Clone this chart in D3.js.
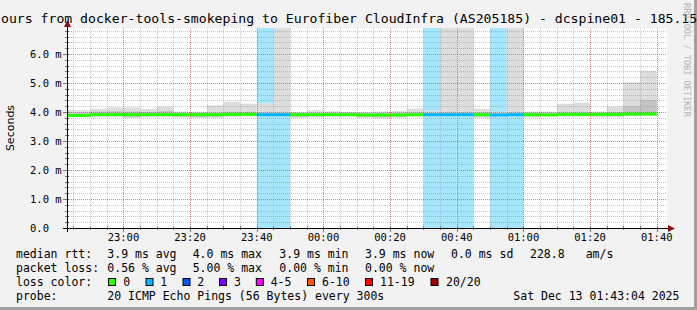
<!DOCTYPE html>
<html>
<head>
<meta charset="utf-8">
<script src="https://cdn.jsdelivr.net/npm/d3@7"></script>
<style>
  body { margin: 0; background: #f2f2f2; }
  svg { display: block; }
  text { font-family: "DejaVu Sans Mono", monospace; fill: #000; }
</style>
</head>
<body>
<div id="chart"></div>
<script>
// 5 minute steps, 22:40 .. 01:35 (start of each step)
const stepTimes = ["22:40","22:45","22:50","22:55","23:00","23:05","23:10","23:15","23:20","23:25","23:30","23:35",
                   "23:40","23:45","23:50","23:55","00:00","00:05","00:10","00:15","00:20","00:25","00:30","00:35",
                   "00:40","00:45","00:50","00:55","01:00","01:05","01:10","01:15","01:20","01:25","01:30","01:35"];
// median rtt in ms
const medianMs = [3.88,3.88,3.91,3.91,3.91,3.91,3.91,3.91,3.91,3.91,3.92,3.92,
                  3.91,3.91,3.91,3.91,3.91,3.91,3.90,3.90,3.90,3.91,3.91,3.91,
                  3.91,3.91,3.90,3.91,3.91,3.90,3.92,3.92,3.92,3.92,3.93,3.93];
// lost pings per step (out of 20)
const lossPings = [0,0,0,0,0,0,0,0,0,0,0,0,
                   1,1,0,0,0,0,0,0,0,0,1,1,
                   1,0,1,1,0,0,0,0,0,0,0,0];
// smoke extent (min / max ping) in ms, 7 = off the top of the graph
const smokeLoMs = [3.85,3.84,3.84,3.84,3.80,3.84,3.84,3.82,3.80,3.80,3.84,3.85,
                   3.86,3.86,3.80,3.82,3.84,3.84,3.80,3.78,3.80,3.84,3.86,3.86,
                   3.86,3.80,3.86,3.86,3.82,3.86,3.84,3.84,3.82,3.82,3.86,3.88];
const smokeHiMs = [4.07,4.06,4.11,4.16,4.16,4.11,4.19,4.02,4.01,4.23,4.36,4.29,
                   4.31,7.00,4.00,4.06,4.03,4.00,4.00,4.02,4.04,4.12,4.05,7.00,
                   7.00,4.11,4.02,7.00,4.02,4.02,4.28,4.33,4.02,4.19,5.02,5.42];
// darker inner smoke
const innerLoMs = [3.86,3.86,3.86,3.86,3.82,3.85,3.86,3.84,3.82,3.84,3.86,3.87,
                   3.88,3.88,3.84,3.85,3.86,3.86,3.83,3.82,3.84,3.86,3.88,3.88,
                   3.88,3.84,3.88,3.88,3.85,3.87,3.87,3.87,3.86,3.86,3.88,3.89];
const innerHiMs = [3.98,3.98,4.02,4.03,4.02,4.00,4.04,3.96,3.96,3.98,4.00,4.00,
                   3.98,3.98,3.96,3.97,3.97,3.97,3.96,3.96,3.97,3.98,3.97,3.98,
                   3.98,3.98,3.96,3.98,3.97,3.97,3.98,3.99,3.97,4.00,4.20,4.42];

const yTicks = [0,1,2,3,4,5,6];
const yTickLabels = ["0.0","1.0 m","2.0 m","3.0 m","4.0 m","5.0 m","6.0 m"];
const xTickLabels = ["23:00","23:20","23:40","00:00","00:20","00:40","01:00","01:20","01:40"];

const lossNames = ["0","1","2","3","4-5","6-10","11-19","20/20"];
const lossColors = ["#26ff00","#00b8ff","#0059ff","#7e00ff","#ff00ff","#ff5500","#ff0000","#a10000"];

const width = 697, height = 310;
const plot = { left: 67, top: 28, width: 600, height: 200 };

function toDate(hm) {
    const [h, m] = hm.split(":").map(Number);
    const day = h >= 12 ? 12 : 13;
    return new Date(2025, 11, day, h, m, 0);
}

const svg = d3.select("#chart").append("svg")
    .attr("width", width)
    .attr("height", height);

// background and 3d frame
svg.append("rect").attr("width", width).attr("height", height).attr("fill", "#f2f2f2");
svg.append("rect").attr("x", 0).attr("y", height - 3).attr("width", width).attr("height", 3).attr("fill", "#a0a0a0");
svg.append("rect").attr("x", width - 3).attr("y", 0).attr("width", 3).attr("height", height).attr("fill", "#a0a0a0");

const xScale = d3.scaleTime()
    .domain([new Date(2025, 11, 12, 22, 43, 4), new Date(2025, 11, 13, 1, 43, 4)])
    .range([plot.left, plot.left + plot.width]);

const yScale = d3.scaleLinear()
    .domain([0, 6.9])
    .range([plot.top + plot.height, plot.top]);

svg.append("defs").append("clipPath").attr("id", "clip")
    .append("rect")
    .attr("x", plot.left).attr("y", plot.top)
    .attr("width", plot.width).attr("height", plot.height);

// canvas
svg.append("rect")
    .attr("x", plot.left).attr("y", plot.top)
    .attr("width", plot.width).attr("height", plot.height)
    .attr("fill", "#ffffff");

const steps = stepTimes.map((t, i) => {
    const start = toDate(t);
    return {
        start: start,
        end: new Date(start.getTime() + 5 * 60 * 1000),
        median: medianMs[i],
        loss: lossPings[i],
        lo: smokeLoMs[i], hi: smokeHiMs[i],
        inLo: innerLoMs[i], inHi: innerHiMs[i]
    };
});

function lossColor(n) {
    if (n === 0) return lossColors[0];
    if (n === 1) return lossColors[1];
    if (n === 2) return lossColors[2];
    if (n === 3) return lossColors[3];
    if (n <= 5) return lossColors[4];
    if (n <= 10) return lossColors[5];
    if (n <= 19) return lossColors[6];
    return lossColors[7];
}

const data = svg.append("g").attr("clip-path", "url(#clip)");

// loss background
data.selectAll(".lossbg")
    .data(steps.filter(d => d.loss > 0))
    .enter().append("rect")
    .attr("x", d => xScale(d.start))
    .attr("width", d => xScale(d.end) - xScale(d.start))
    .attr("y", plot.top)
    .attr("height", plot.height)
    .attr("fill", "#a6e6fd");

// smoke
data.selectAll(".smoke")
    .data(steps)
    .enter().append("rect")
    .attr("x", d => xScale(d.start))
    .attr("width", d => xScale(d.end) - xScale(d.start))
    .attr("y", d => yScale(d.hi))
    .attr("height", d => yScale(d.lo) - yScale(d.hi))
    .attr("fill", "#dddddd");

data.selectAll(".smokein")
    .data(steps)
    .enter().append("rect")
    .attr("x", d => xScale(d.start))
    .attr("width", d => xScale(d.end) - xScale(d.start))
    .attr("y", d => yScale(d.inHi))
    .attr("height", d => yScale(d.inLo) - yScale(d.inHi))
    .attr("fill", "#c4c4c4");

// median
data.selectAll(".median")
    .data(steps)
    .enter().append("rect")
    .attr("x", d => xScale(d.start))
    .attr("width", d => xScale(d.end) - xScale(d.start))
    .attr("y", d => yScale(d.median) - 1.5)
    .attr("height", 3)
    .attr("fill", d => lossColor(d.loss));

// grid, drawn on top like rrdtool does
const grid = svg.append("g");
const minorY = d3.range(0, 6.9, 0.2);
grid.selectAll(".ymin")
    .data(minorY)
    .enter().append("line")
    .attr("x1", plot.left).attr("x2", plot.left + plot.width)
    .attr("y1", d => Math.round(yScale(d)) + 0.5)
    .attr("y2", d => Math.round(yScale(d)) + 0.5)
    .attr("stroke", "rgba(120,120,120,0.4)")
    .attr("stroke-dasharray", "1,1");

const minorX = d3.timeMinute.every(5).range(xScale.domain()[0], xScale.domain()[1]);
grid.selectAll(".xmin")
    .data(minorX)
    .enter().append("line")
    .attr("x1", d => Math.round(xScale(d)) + 0.5)
    .attr("x2", d => Math.round(xScale(d)) + 0.5)
    .attr("y1", plot.top).attr("y2", plot.top + plot.height)
    .attr("stroke", "rgba(120,120,120,0.4)")
    .attr("stroke-dasharray", "1,1");

grid.selectAll(".ymaj")
    .data(yTicks.slice(1))
    .enter().append("line")
    .attr("x1", plot.left).attr("x2", plot.left + plot.width)
    .attr("y1", d => Math.round(yScale(d)) + 0.5)
    .attr("y2", d => Math.round(yScale(d)) + 0.5)
    .attr("stroke", "rgba(230,60,60,0.5)")
    .attr("stroke-dasharray", "1,1");

const majorX = xTickLabels.map(toDate);
grid.selectAll(".xmaj")
    .data(majorX)
    .enter().append("line")
    .attr("x1", d => Math.round(xScale(d)) + 0.5)
    .attr("x2", d => Math.round(xScale(d)) + 0.5)
    .attr("y1", plot.top).attr("y2", plot.top + plot.height)
    .attr("stroke", "rgba(230,60,60,0.5)")
    .attr("stroke-dasharray", "1,1");

// axis ticks
const y0 = plot.top + plot.height;
grid.selectAll(".ytick")
    .data(minorY)
    .enter().append("line")
    .attr("x1", d => Math.abs(d - Math.round(d)) < 1e-6 ? plot.left - 4 : plot.left - 2)
    .attr("x2", plot.left + 2)
    .attr("y1", d => Math.round(yScale(d)) + 0.5)
    .attr("y2", d => Math.round(yScale(d)) + 0.5)
    .attr("stroke", "#777");
grid.selectAll(".xtick")
    .data(minorX)
    .enter().append("line")
    .attr("x1", d => Math.round(xScale(d)) + 0.5)
    .attr("x2", d => Math.round(xScale(d)) + 0.5)
    .attr("y1", y0 - 2)
    .attr("y2", d => d.getMinutes() % 20 === 0 ? y0 + 4 : y0 + 2)
    .attr("stroke", "#777");

// axis lines + arrows
svg.append("line")
    .attr("x1", plot.left - 4).attr("x2", plot.left + plot.width + 4)
    .attr("y1", y0 + 0.5).attr("y2", y0 + 0.5)
    .attr("stroke", "#000");
svg.append("line")
    .attr("x1", plot.left + 0.5).attr("x2", plot.left + 0.5)
    .attr("y1", y0 + 4).attr("y2", plot.top - 4)
    .attr("stroke", "#000");
svg.append("path")
    .attr("d", `M${plot.left + plot.width + 1},${y0 - 3} L${plot.left + plot.width + 8},${y0 + 0.5} L${plot.left + plot.width + 1},${y0 + 4} Z`)
    .attr("fill", "#8b1010");
svg.append("path")
    .attr("d", `M${plot.left - 3},${plot.top - 1} L${plot.left + 0.5},${plot.top - 8} L${plot.left + 4},${plot.top - 1} Z`)
    .attr("fill", "#8b1010");

// y labels
svg.selectAll(".ylab")
    .data(yTicks)
    .enter().append("text")
    .attr("x", 30)
    .attr("y", d => yScale(d) + 3.8)
    .style("font-size", "10.5px")
    .text((d, i) => yTickLabels[i]);

// x labels
svg.selectAll(".xlab")
    .data(majorX)
    .enter().append("text")
    .attr("x", d => xScale(d))
    .attr("y", 241)
    .attr("text-anchor", "middle")
    .style("font-size", "10.5px")
    .text((d, i) => xTickLabels[i]);

// y axis title
svg.append("text")
    .attr("transform", "rotate(-90)")
    .attr("x", -128)
    .attr("y", 14)
    .attr("text-anchor", "middle")
    .style("font-family", "'DejaVu Sans', sans-serif")
    .style("font-size", "11px")
    .text("Seconds");

// title (cut off on both sides in the original)
svg.append("text")
    .attr("x", 1)
    .attr("y", 23)
    .style("font-size", "13.15px")
    .text("ours from docker-tools-smokeping to Eurofiber CloudInfra (AS205185) - dcspine01 - 185.15");

// watermark
svg.append("text")
    .attr("transform", "translate(684, 3) rotate(90)")
    .style("font-size", "8.6px")
    .style("fill", "#b5b5b5")
    .text("RRDTOOL / TOBI OETIKER");

// legend
const legendFont = "11.5px";
const rows = [258.3, 272.2, 286.1, 300];
function legendText(x, y, s) {
    svg.append("text").attr("x", x).attr("y", y)
        .style("font-size", legendFont)
        .attr("xml:space", "preserve")
        .text(s);
}
legendText(16, rows[0], "median rtt:");
legendText(107.3, rows[0], "3.9 ms avg");
legendText(192.7, rows[0], "4.0 ms max");
legendText(279.3, rows[0], "3.9 ms min");
legendText(365, rows[0], "3.9 ms now");
legendText(451, rows[0], "0.0 ms sd");
legendText(530, rows[0], "228.8");
legendText(585.7, rows[0], "am/s");

legendText(16, rows[1], "packet loss:");
legendText(107.3, rows[1], "0.56 % avg");
legendText(192.7, rows[1], "5.00 % max");
legendText(279.3, rows[1], "0.00 % min");
legendText(365, rows[1], "0.00 % now");

legendText(16, rows[2], "loss color:");
const swatchX = [108.5, 146, 183, 219.5, 256.3, 307.5, 365.5, 431];
const swatchTextX = [123.3, 160.3, 197.3, 234, 270.7, 322, 380, 446];
lossNames.forEach((name, i) => {
    svg.append("rect")
        .attr("x", swatchX[i]).attr("y", 278.5)
        .attr("width", 7).attr("height", 7)
        .attr("fill", lossColors[i])
        .attr("stroke", "#000");
    legendText(swatchTextX[i], rows[2], name);
});

legendText(16, rows[3], "probe:");
legendText(107.3, rows[3], "20 ICMP Echo Pings (56 Bytes) every 300s");
legendText(513.3, rows[3], "Sat Dec 13 01:43:04 2025");
</script>
</body>
</html>
